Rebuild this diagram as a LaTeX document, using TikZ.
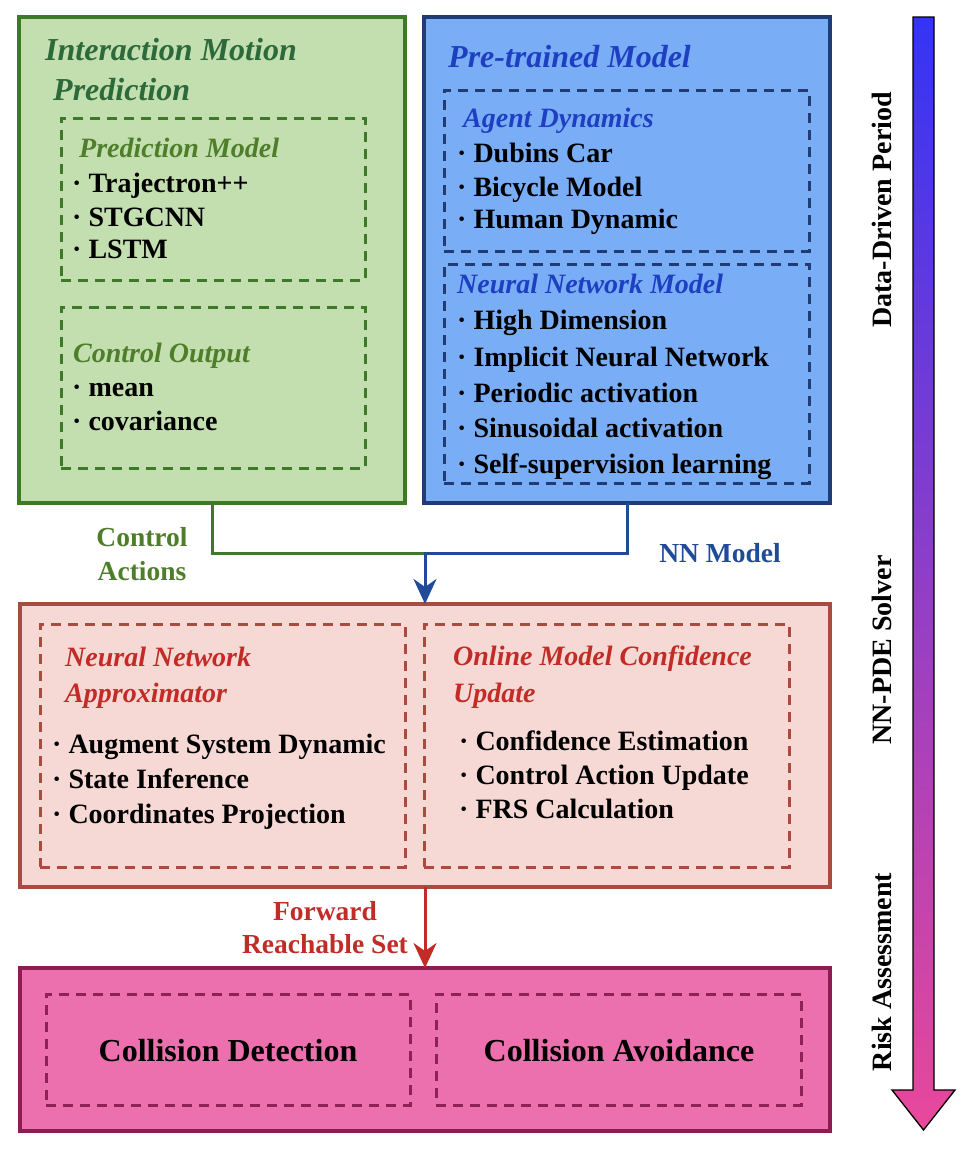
\documentclass[tikz,border=0pt]{standalone}
\usepackage{fontspec}
\setmainfont{Liberation Serif}
\usetikzlibrary{arrows.meta}
\definecolor{gfill}{HTML}{C4DFAF}
\definecolor{gline}{HTML}{3C7A28}
\definecolor{gtitle}{HTML}{2C6A3C}
\definecolor{gsub}{HTML}{4E7E2A}
\definecolor{bfill}{HTML}{79AEF6}
\definecolor{bline}{HTML}{1F3C74}
\definecolor{btitle}{HTML}{1F3FC2}
\definecolor{bconn}{HTML}{1F4B98}
\definecolor{mfill}{HTML}{F6D9D5}
\definecolor{mline}{HTML}{A84C40}
\definecolor{mtitle}{HTML}{C22C27}
\definecolor{rfill}{HTML}{EC70AD}
\definecolor{rline}{HTML}{8B1E50}
\definecolor{rdash}{HTML}{8E2255}
\definecolor{gtop}{HTML}{3434F6}
\definecolor{gbot}{HTML}{E9489A}
\begin{document}
\begin{tikzpicture}[x=1pt,y=-1pt,
  mainbox/.style={draw, line width=3.2pt, anchor=north west, inner sep=0pt, outer sep=0pt},
  dbox/.style={draw, line width=3pt, dash pattern=on 10pt off 7pt, anchor=north west, inner sep=0pt, outer sep=0pt},
  txt/.style={anchor=base west, inner sep=0pt, font=\fontsize{28pt}{33pt}\selectfont\bfseries},
  sub/.style={anchor=base west, inner sep=0pt, font=\fontsize{28pt}{33pt}\selectfont\bfseries\itshape},
  ttl/.style={anchor=base west, inner sep=0pt, font=\fontsize{32pt}{38pt}\selectfont\bfseries\itshape},
  lbl/.style={anchor=base, inner sep=0pt, font=\fontsize{27.5pt}{33pt}\selectfont\bfseries},
  big/.style={anchor=base, inner sep=0pt, font=\fontsize{32pt}{38pt}\selectfont\bfseries},
  side/.style={anchor=base, inner sep=0pt, rotate=90, font=\fontsize{28pt}{33pt}\selectfont\bfseries},
  conn/.style={line width=3pt},
  tip/.style={-{Stealth[length=25pt,width=23pt,inset=8pt]}}
]
\useasboundingbox (0,0) rectangle (962,1154);

% ---------- green box ----------
\node[mainbox, fill=gfill, draw=gline, minimum width=386pt, minimum height=486pt] (gbox) at (19,17) {};
\node[dbox, draw=gline, minimum width=304pt, minimum height=162pt] (gd1) at (61,118) {};
\node[dbox, draw=gline, minimum width=304pt, minimum height=161pt] (gd2) at (61,307) {};
\node[ttl, text=gtitle] (gt1) at (45,60) {Interaction Motion};
\node[ttl, text=gtitle] (gt2) at (53,100) {Prediction};
\node[sub, text=gsub] (gs1) at (79,157) {Prediction Model};
\node[txt] (g1) at (72,192) {· Trajectron++};
\node[txt] (g2) at (72,226) {· STGCNN};
\node[txt] (g3) at (72,258) {· LSTM};
\node[sub, text=gsub] (gs2) at (73,362) {Control Output};
\node[txt] (g4) at (72,396) {· mean};
\node[txt] (g5) at (72,430) {· covariance};

% ---------- blue box ----------
\node[mainbox, fill=bfill, draw=bline, minimum width=406pt, minimum height=486pt] (bbox) at (424,17) {};
\node[dbox, draw=bline, minimum width=365pt, minimum height=161pt] (bd1) at (444,90) {};
\node[dbox, draw=bline, minimum width=365pt, minimum height=219pt] (bd2) at (444,264) {};
\node[ttl, text=btitle] (bt) at (448,67) {Pre-trained Model};
\node[sub, text=btitle] (bs1) at (463,127) {Agent Dynamics};
\node[txt] (b1) at (457,162) {· Dubins Car};
\node[txt] (b2) at (457,196) {· Bicycle Model};
\node[txt] (b3) at (457,228) {· Human Dynamic};
\node[sub, text=btitle] (bs2) at (457,293) {Neural Network Model};
\node[txt] (b4) at (457,329) {· High Dimension};
\node[txt] (b5) at (457,366) {· Implicit Neural Network};
\node[txt] (b6) at (457,402) {· Periodic activation};
\node[txt] (b7) at (457,437) {· Sinusoidal activation};
\node[txt] (b8) at (457,473) {· Self-supervision learning};

% ---------- middle box ----------
\node[mainbox, fill=mfill, draw=mline, minimum width=810pt, minimum height=283pt] (mbox) at (20,604) {};
\node[dbox, draw=mline, minimum width=365pt, minimum height=243pt] (md1) at (40,624) {};
\node[dbox, draw=mline, minimum width=365pt, minimum height=243pt] (md2) at (424,624) {};
\node[sub, text=mtitle] (ms1) at (65,666) {Neural Network};
\node[sub, text=mtitle] (ms2) at (65,702) {Approximator};
\node[txt] (m1) at (52,753) {· Augment System Dynamic};
\node[txt] (m2) at (52,788) {· State Inference};
\node[txt] (m3) at (52,823) {· Coordinates Projection};
\node[sub, text=mtitle] (ms3) at (453,665) {Online Model Confidence};
\node[sub, text=mtitle] (ms4) at (453,702) {Update};
\node[txt] (m4) at (459,750) {· Confidence Estimation};
\node[txt] (m5) at (459,784) {· Control Action Update};
\node[txt] (m6) at (459,818) {· FRS Calculation};

% ---------- bottom box ----------
\node[mainbox, fill=rfill, draw=rline, minimum width=810pt, minimum height=163pt] (rbox) at (20,968) {};
\node[dbox, draw=rdash, minimum width=364pt, minimum height=111pt] (rd1) at (46,994) {};
\node[dbox, draw=rdash, minimum width=365pt, minimum height=111pt] (rd2) at (436,994) {};
\node[big] (r1) at (228,1061) {Collision Detection};
\node[big] (r2) at (619,1061) {Collision Avoidance};

% ---------- connectors ----------
\coordinate (join) at (425,553);
\draw[conn, draw=gline] (gbox.south) |- (join);
\draw[conn, draw=bconn, tip] (bbox.south) |- (join) -- (mbox.north);
\draw[conn, draw=mtitle, tip] (mbox.south) -- (rbox.north);
\node[lbl, text=gsub] (c1) at (142,546) {Control};
\node[lbl, text=gsub] (c2) at (142,580) {Actions};
\node[lbl, text=bconn] (c3) at (720,562) {NN Model};
\node[lbl, text=mtitle] (c4) at (325,920) {Forward};
\node[lbl, text=mtitle] (c5) at (325,953) {Reachable Set};

% ---------- side gradient arrow ----------
\path[draw=black, line width=1.3pt, top color=gtop, bottom color=gbot]
  (913,17) -- (934,17) -- (934,1090) -- (955,1090) -- (923.5,1130) -- (892,1090) -- (913,1090) -- cycle;
\node[side] (s1) at (891,210) {Data-Driven Period};
\node[side] (s2) at (891,650) {NN-PDE Solver};
\node[side] (s3) at (891,972) {Risk Assessment};
\end{tikzpicture}
\end{document}
